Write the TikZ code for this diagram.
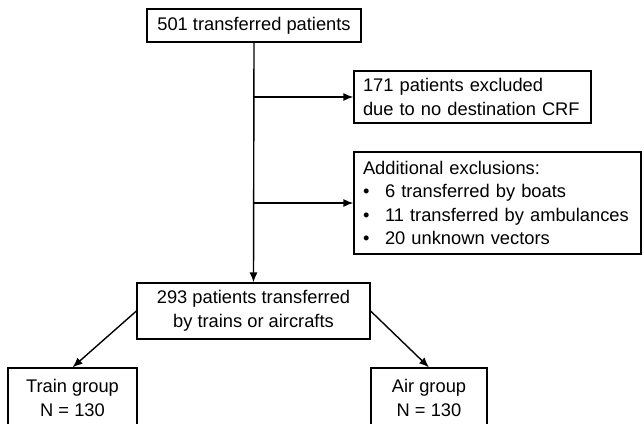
\documentclass[tikz,border=0pt]{standalone}
\usepackage{fontspec}
\setmainfont{Liberation Sans}
\usetikzlibrary{arrows.meta}
\begin{document}
\begin{tikzpicture}[x=1pt,y=-1pt,
  box/.style={draw, line width=1.2pt, inner sep=0pt, font=\fontsize{18.3}{23.5}\selectfont},
  arr/.style={line width=1.4pt, -{Latex[length=10pt,width=8pt]}}]
\useasboundingbox (0,0) rectangle (644,423);
\node[box, minimum width=214, minimum height=33, align=center] (top) at (254,25.5) {501 transferred patients};
\node[box, minimum width=237, minimum height=52, text width=219, align=left] (excl) at (472.5,97) {171 patients excluded\\due to no destination CRF};
\node[box, minimum width=287, minimum height=102, text width=269, align=left] (addl) at (497.5,203)
  {Additional exclusions:\\\makebox[22pt][l]{\textbullet}6 transferred by boats\\\makebox[22pt][l]{\textbullet}11 transferred by ambulances\\\makebox[22pt][l]{\textbullet}20 unknown vectors};
\node[box, minimum width=233, minimum height=56, align=center] (mid) at (253.5,311) {293 patients transferred\\by trains or aircrafts};
\node[box, minimum width=129, minimum height=60, align=center] (train) at (72.5,398) {Train group\\N = 130};
\node[box, minimum width=116, minimum height=60, align=center] (air) at (429,398) {Air group\\N = 130};
\draw[arr] (top.south) -- (mid.north);
\draw[arr] (excl.west -| top.south) -- (excl.west);
\draw[arr] (addl.west -| top.south) -- (addl.west);
\draw[arr] (mid.west) -- (train.north);
\draw[arr] (mid.east) -- (air.north);
\end{tikzpicture}
\end{document}
